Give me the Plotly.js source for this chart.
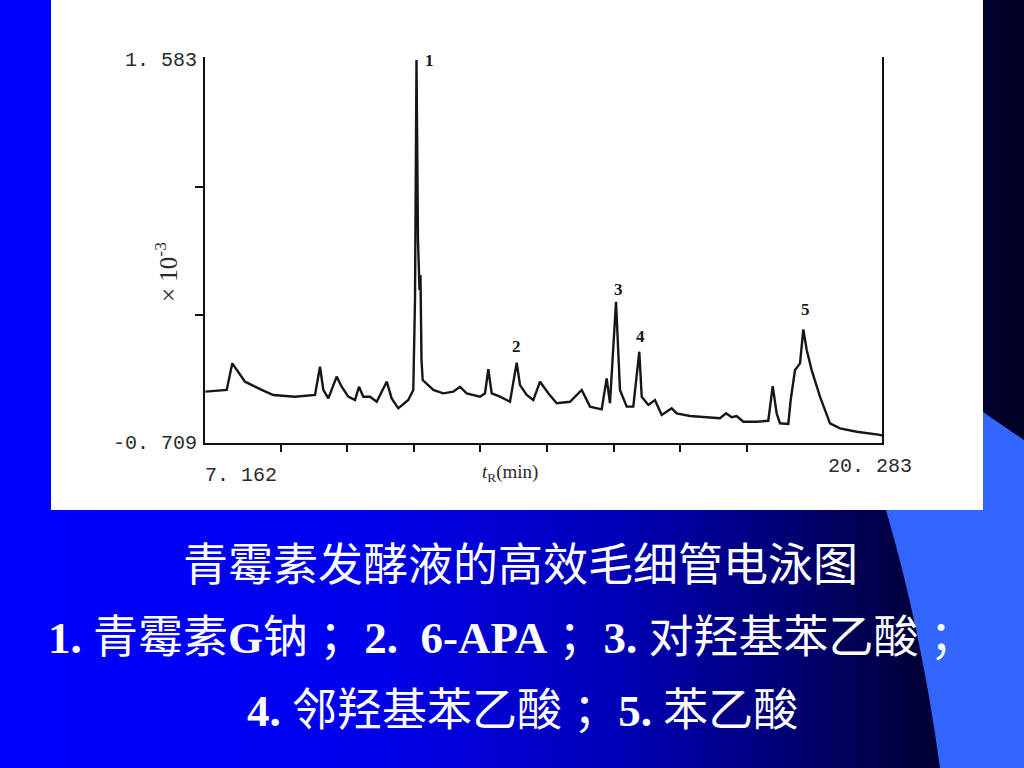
<!DOCTYPE html>
<html>
<head>
<meta charset="utf-8">
<script src="https://cdn.plot.ly/plotly-3.0.1.min.js"></script>
<style>
  html, body { margin: 0; padding: 0; width: 1024px; height: 768px; overflow: hidden; }
  #bg { position: absolute; left: 0; top: 0; }
  #chart { position: absolute; left: 0; top: 0; width: 1024px; height: 768px; }
</style>
</head>
<body>
<svg id="bg" width="1024" height="768" xmlns="http://www.w3.org/2000/svg">
  <defs>
    <linearGradient id="g" x1="0" y1="0" x2="1" y2="0">
      <stop offset="0" stop-color="#0000ff"/>
      <stop offset="0.35" stop-color="#0000ee"/>
      <stop offset="0.6" stop-color="#0000b8"/>
      <stop offset="0.78" stop-color="#000070"/>
      <stop offset="0.9" stop-color="#000038"/>
      <stop offset="1" stop-color="#000024"/>
    </linearGradient>
  </defs>
  <rect x="0" y="0" width="1024" height="768" fill="url(#g)"/>
  <path d="M 983 412 L 1024 440 L 1024 768 L 940 768 Q 920 620 880 490 Z" fill="#3366ff"/>
  <rect x="51" y="0" width="932" height="510" fill="#ffffff"/>
</svg>
<div id="chart"></div>
<script>
// ---- data ----
const retentionTime = [7.170, 7.583, 7.691, 7.937, 8.261, 8.486, 8.906, 9.294, 9.391, 9.455,
  9.552, 9.714, 9.811, 9.939, 10.069, 10.147, 10.230, 10.360, 10.490, 10.684,
  10.780, 10.908, 11.102, 11.199, 11.232, 11.261, 11.290, 11.319, 11.338, 11.358,
  11.381, 11.587, 11.780, 11.974, 12.104, 12.234, 12.492, 12.589, 12.653, 12.719,
  12.879, 13.073, 13.203, 13.267, 13.397, 13.525, 13.655, 13.719, 13.816, 13.978,
  14.236, 14.463, 14.624, 14.850, 14.947, 15.011, 15.128, 15.205, 15.335, 15.463,
  15.579, 15.626, 15.754, 15.883, 16.013, 16.207, 16.304, 16.562, 16.885, 17.143,
  17.260, 17.370, 17.467, 17.595, 17.854, 18.079, 18.165, 18.242, 18.306, 18.467,
  18.513, 18.597, 18.694, 18.758, 18.824, 18.920, 19.081, 19.275, 19.469, 19.793,
  20.244, 20.283];
const signal = [-0.404, -0.394, -0.236, -0.345, -0.394, -0.424, -0.434, -0.424, -0.256, -0.394,
  -0.444, -0.315, -0.375, -0.434, -0.454, -0.375, -0.434, -0.434, -0.464, -0.345,
  -0.444, -0.503, -0.454, -0.394, 0.140, 1.565, 0.497, 0.200, 0.289, -0.216,
  -0.335, -0.394, -0.414, -0.404, -0.375, -0.414, -0.434, -0.414, -0.271, -0.414,
  -0.434, -0.464, -0.232, -0.365, -0.424, -0.454, -0.345, -0.375, -0.414, -0.473,
  -0.464, -0.394, -0.493, -0.509, -0.325, -0.473, 0.130, -0.394, -0.493, -0.493,
  -0.167, -0.434, -0.483, -0.454, -0.543, -0.503, -0.533, -0.549, -0.556, -0.562,
  -0.533, -0.556, -0.549, -0.583, -0.583, -0.577, -0.371, -0.533, -0.592, -0.596,
  -0.454, -0.276, -0.236, -0.034, -0.157, -0.276, -0.434, -0.592, -0.622, -0.642,
  -0.661, -0.665];

const xRange = [7.162, 20.283];
const yRange = [-0.709, 1.583];
const xTickVals = [8.63, 9.92, 11.21, 12.50, 13.79, 15.08, 16.37, 17.66];
const yTickVals = [0.051, 0.811];
const xEndLabels = ["7. 162", "20. 283"];
const yEndLabels = ["-0. 709", "1. 583"];
const xTitle = "<i>t</i><sub>R</sub>(min)";
const yTitle = "× 10<sup>-3</sup>";

const peakNames = ["1", "2", "3", "4", "5"];
const peakTimes = [11.261, 13.203, 15.128, 15.579, 18.758];

const captionTitle = "青霉素发酵液的高效毛细管电泳图";
const captionLine2 = "<b>1.</b> 青霉素<b>G</b>钠 ；<b>2.  6-APA</b> ；<b>3.</b> 对羟基苯乙酸 ；";
const captionLine3 = "<b>4.</b> 邻羟基苯乙酸 ；<b>5.</b> 苯乙酸";

// ---- layout helpers (pixel -> paper) ----
const M = {l: 205, r: 142, t: 57, b: 325};
const PW = 1024 - M.l - M.r, PH = 768 - M.t - M.b;
const px = x => (x - M.l) / PW;
const py = y => (768 - M.b - y) / PH;

const numFont = {family: "Liberation Mono, DejaVu Sans Mono, monospace", size: 20, color: "#2a2a2a"};
const capFont = {family: "Liberation Serif, Noto Sans CJK SC, serif", size: 45, color: "#ffffff"};

const annotations = [];
// axis end labels
annotations.push({xref: "paper", yref: "paper", x: px(199), y: py(443), xanchor: "right", yanchor: "middle", text: yEndLabels[0], showarrow: false, font: numFont});
annotations.push({xref: "paper", yref: "paper", x: px(199), y: py(60), xanchor: "right", yanchor: "middle", text: yEndLabels[1], showarrow: false, font: numFont});
annotations.push({xref: "paper", yref: "paper", x: px(203), y: py(475), xanchor: "left", yanchor: "middle", text: xEndLabels[0], showarrow: false, font: numFont});
annotations.push({xref: "paper", yref: "paper", x: px(914), y: py(466), xanchor: "right", yanchor: "middle", text: xEndLabels[1], showarrow: false, font: numFont});
annotations.push({xref: "paper", yref: "paper", x: px(510), y: py(473), xanchor: "center", yanchor: "middle", text: xTitle, showarrow: false, font: {family: "Liberation Serif, serif", size: 19, color: "#2a2a2a"}});
annotations.push({xref: "paper", yref: "paper", x: px(166), y: py(272), xanchor: "center", yanchor: "middle", text: yTitle, textangle: -90, showarrow: false, font: {family: "Liberation Serif, serif", size: 25, color: "#2a2a2a"}});

// peak labels, placed on the trace maxima
const shifts = [[13, 0], [0, 16], [2, 12], [1, 15], [2, 20]];
peakNames.forEach((name, i) => {
  const idx = retentionTime.indexOf(peakTimes[i]);
  annotations.push({x: retentionTime[idx], y: signal[idx], xref: "x", yref: "y", text: name, showarrow: false,
    xanchor: "center", yanchor: "middle", xshift: shifts[i][0], yshift: shifts[i][1],
    font: {family: "Liberation Serif, serif", size: 17, color: "#1a1a1a", weight: "bold"}});
});

// captions
annotations.push({xref: "paper", yref: "paper", x: px(520), y: py(566), xanchor: "center", yanchor: "middle", text: captionTitle, showarrow: false, font: capFont});
annotations.push({xref: "paper", yref: "paper", x: px(511), y: py(638), xanchor: "center", yanchor: "middle", text: captionLine2, showarrow: false, font: capFont});
annotations.push({xref: "paper", yref: "paper", x: px(522), y: py(711), xanchor: "center", yanchor: "middle", text: captionLine3, showarrow: false, font: capFont});

const trace = {
  x: retentionTime, y: signal, type: "scatter", mode: "lines",
  line: {color: "#161616", width: 2.4}, hoverinfo: "skip"
};

const layout = {
  width: 1024, height: 768,
  margin: M,
  paper_bgcolor: "rgba(0,0,0,0)", plot_bgcolor: "rgba(0,0,0,0)",
  showlegend: false,
  xaxis: {range: xRange, showgrid: false, zeroline: false, showline: true, linecolor: "#111", linewidth: 2,
    tickmode: "array", tickvals: xTickVals, ticks: "outside", ticklen: 7, tickwidth: 2, tickcolor: "#111",
    showticklabels: false, fixedrange: true},
  yaxis: {range: yRange, showgrid: false, zeroline: false, showline: true, linecolor: "#111", linewidth: 2,
    mirror: true, tickmode: "array", tickvals: yTickVals, ticks: "outside", ticklen: 8, tickwidth: 2, tickcolor: "#111",
    showticklabels: false, fixedrange: true},
  annotations: annotations
};

Plotly.newPlot("chart", [trace], layout, {staticPlot: true, displayModeBar: false});
</script>
</body>
</html>
